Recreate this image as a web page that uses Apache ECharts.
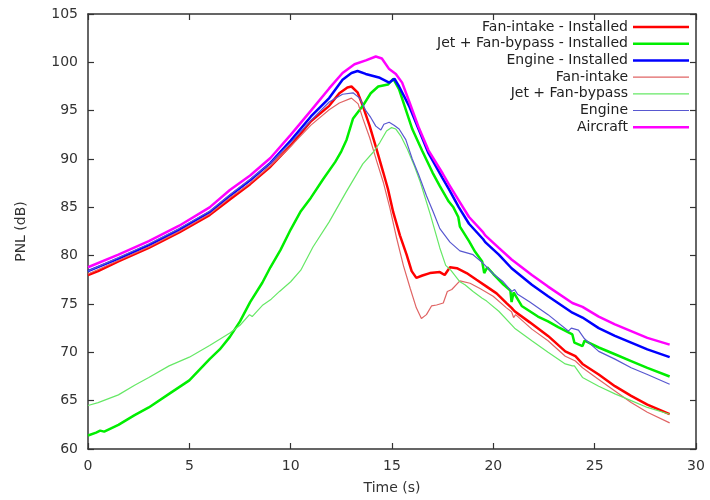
<!DOCTYPE html>
<html>
<head>
<meta charset="utf-8">
<script src="https://cdn.jsdelivr.net/npm/echarts/dist/echarts.min.js"></script>
<style>
  html, body { margin: 0; padding: 0; background: #fff; }
  #chart { width: 710px; height: 500px; }
</style>
</head>
<body>
<div id="chart"></div>
<script>
// ---- Data (time s, PNL dB) ----
const seriesNames = [
  'Fan-intake - Installed',
  'Jet + Fan-bypass - Installed',
  'Engine - Installed',
  'Fan-intake',
  'Jet + Fan-bypass',
  'Engine',
  'Aircraft'
];

const xTicks = [0, 5, 10, 15, 20, 25, 30];
const yTicks = [60, 65, 70, 75, 80, 85, 90, 95, 100, 105];

const fanIntakeInstalled = [[0,78.0],[0.5,78.4],[1.5,79.4],[3,80.8],[4.5,82.4],[6,84.2],[7,85.8],[8,87.4],[9,89.2],[10,91.4],[11,93.9],[11.9,95.5],[12.4,96.8],[12.8,97.4],[13.0,97.5],[13.3,96.9],[13.56,95.5],[13.9,93.4],[14.24,91.0],[14.57,88.6],[14.8,86.9],[15.06,84.5],[15.39,82.1],[15.72,80.1],[15.97,78.4],[16.2,77.7],[16.5,77.95],[16.87,78.2],[17.36,78.3],[17.6,78.0],[17.86,78.8],[18.2,78.7],[18.68,78.2],[19.17,77.5],[19.67,76.8],[20.16,76.1],[20.65,75.1],[20.9,74.6],[21.05,74.25],[21.8,73.1],[22.7,71.7],[23.55,70.1],[24.05,69.6],[24.4,68.8],[25.2,67.7],[26.0,66.5],[26.8,65.5],[27.6,64.6],[28.7,63.6]];

const jetFanBypassInstalled = [[0,61.4],[0.4,61.7],[0.6,61.9],[0.8,61.8],[1.5,62.5],[2.3,63.5],[3,64.3],[4,65.7],[5,67.1],[6,69.3],[6.5,70.3],[7,71.6],[7.5,73.2],[8,75.2],[8.6,77.2],[9,78.8],[9.5,80.6],[10,82.7],[10.5,84.6],[11,86.0],[11.6,87.9],[12.2,89.7],[12.5,90.8],[12.76,92.0],[13.08,94.2],[13.56,95.5],[13.95,96.8],[14.32,97.5],[14.8,97.7],[15.06,98.3],[15.35,97.2],[15.68,95.1],[16.0,93.1],[16.5,90.8],[17.0,88.6],[17.36,87.2],[17.8,85.6],[18.03,85.0],[18.27,84.0],[18.35,83.0],[18.8,81.5],[19.1,80.4],[19.45,79.4],[19.55,78.2],[19.7,78.8],[20.0,78.1],[20.5,77.0],[20.84,76.4],[20.9,75.2],[21.0,76.2],[21.4,74.8],[22.2,73.7],[22.7,73.2],[23.2,72.6],[23.9,71.85],[24.0,71.0],[24.4,70.65],[24.5,71.2],[25.2,70.5],[26.0,69.8],[26.8,69.1],[27.6,68.4],[28.7,67.5]];

const engineInstalled = [[0,78.4],[1.5,79.7],[3,81.1],[4.5,82.7],[6,84.5],[7,86.2],[8,87.8],[9,89.6],[10,91.9],[11,94.4],[11.9,96.3],[12.56,98.2],[13.0,98.9],[13.3,99.1],[13.7,98.8],[14.4,98.4],[14.86,97.9],[15.12,98.3],[15.35,97.5],[15.84,95.5],[16.33,93.0],[16.8,90.6],[17.5,88.0],[17.8,86.9],[18.3,85.0],[18.8,83.3],[19.5,81.7],[19.6,81.4],[20.27,80.1],[20.9,78.7],[21.9,77.0],[22.7,75.8],[23.9,74.1],[24.4,73.6],[25.2,72.5],[26.0,71.7],[26.8,71.0],[27.6,70.3],[28.7,69.5]];

const fanIntake = [[0,78.1],[1.5,79.5],[3,80.9],[4.5,82.5],[6,84.3],[7,86.0],[8,87.5],[9,89.3],[10,91.3],[11,93.5],[11.9,95.1],[12.4,95.8],[13.0,96.3],[13.33,95.7],[13.56,94.2],[13.9,92.2],[14.24,89.8],[14.57,87.6],[14.9,84.9],[15.23,81.8],[15.56,79.0],[15.9,76.6],[16.2,74.6],[16.45,73.5],[16.7,73.9],[16.95,74.8],[17.2,74.9],[17.53,75.1],[17.73,76.3],[17.95,76.5],[18.35,77.4],[18.85,77.15],[19.34,76.6],[19.99,75.8],[20.65,74.6],[20.9,74.2],[21.0,73.6],[21.1,73.9],[21.9,72.4],[22.7,71.2],[23.55,69.6],[24.05,69.1],[24.4,68.4],[25.2,67.2],[26.0,66.0],[26.8,64.8],[27.6,63.8],[28.7,62.7]];

const jetFanBypass = [[0,64.5],[0.5,64.8],[1.5,65.6],[2.3,66.6],[3,67.4],[4,68.6],[5,69.5],[6,70.7],[7,72.0],[7.5,72.8],[7.97,73.9],[8.1,73.7],[8.63,74.9],[9.04,75.5],[9.45,76.3],[10.0,77.3],[10.5,78.5],[11.1,80.9],[11.9,83.5],[12.74,86.6],[13.56,89.5],[14.07,90.7],[14.4,91.7],[14.73,92.9],[14.98,93.25],[15.19,93.1],[15.43,92.4],[15.76,91.0],[16.1,89.3],[16.4,87.6],[16.9,84.2],[17.36,80.8],[17.65,79.0],[17.9,78.5],[18.35,77.3],[18.6,77.0],[19.0,76.3],[19.45,75.6],[19.67,75.3],[20.27,74.25],[21.05,72.5],[21.9,71.2],[22.7,70.0],[23.55,68.8],[23.9,68.6],[24.0,68.6],[24.4,67.4],[25.2,66.5],[26.0,65.7],[26.8,65.0],[27.6,64.3],[28.7,63.6]];

const engine = [[0,78.4],[1.5,79.8],[3,81.2],[4.5,82.8],[6,84.6],[7,86.3],[8,87.9],[9,89.6],[10,91.7],[11,94.0],[11.9,95.9],[12.56,96.7],[13.08,96.85],[13.4,96.3],[13.71,95.0],[13.95,94.3],[14.2,93.4],[14.45,93.0],[14.6,93.6],[14.86,93.8],[15.1,93.5],[15.35,93.1],[15.68,92.0],[16.0,90.0],[16.33,88.3],[16.7,86.2],[17.04,84.5],[17.36,82.8],[17.86,81.4],[18.35,80.5],[19.0,80.1],[19.5,79.2],[20.0,78.1],[20.49,77.3],[20.9,76.3],[21.05,76.5],[21.2,76.0],[21.8,75.2],[22.7,73.9],[23.7,72.2],[23.85,72.5],[24.2,72.3],[24.5,71.4],[25.2,70.1],[26.0,69.3],[26.8,68.4],[27.6,67.7],[28.7,66.7]];

const aircraft = [[0,78.8],[1.5,80.1],[3,81.5],[4.5,83.1],[6,85.0],[7,86.8],[8,88.3],[9,90.1],[10,92.5],[11,95.0],[11.9,97.3],[12.56,98.9],[13.15,99.8],[13.71,100.2],[14.2,100.6],[14.5,100.4],[14.86,99.3],[15.19,98.8],[15.5,97.9],[15.84,96.0],[16.33,93.2],[16.8,90.9],[17.5,88.5],[17.8,87.4],[18.3,85.7],[18.8,84.0],[19.5,82.4],[19.6,82.1],[20.27,80.8],[20.9,79.6],[21.9,78.0],[22.7,76.8],[23.9,75.1],[24.4,74.7],[25.2,73.7],[26.0,72.9],[26.8,72.2],[27.6,71.5],[28.7,70.8]];

const seriesData = [fanIntakeInstalled, jetFanBypassInstalled, engineInstalled, fanIntake, jetFanBypass, engine, aircraft];
const seriesColors = ['#ff0000', '#00ee00', '#0000ff', '#e06464', '#66e866', '#5858d0', '#ff00ff'];
const seriesWidths = [2.5, 2.5, 2.5, 1.2, 1.2, 1.2, 2.5];

const FONT = 'DejaVu Sans';
const AXIS_COLOR = '#333';

// legend line samples: thin filled bars whose aspect gives the line thickness
const ICON_THICK = 'path://M0,0H224V10H0Z';
const ICON_THIN = 'path://M0,0H467V10H0Z';

const chart = echarts.init(document.getElementById('chart'), null, { renderer: 'canvas' });

function axisCommon(showLabels) {
  return {
    axisLine: { show: true, onZero: false, lineStyle: { color: AXIS_COLOR, width: 1.5 } },
    axisTick: { show: true, inside: true, length: 6, lineStyle: { color: AXIS_COLOR, width: 1.2 } },
    axisLabel: { show: showLabels, color: '#333', fontFamily: FONT, fontSize: 14, margin: 10 },
    splitLine: { show: false }
  };
}

const option = {
  animation: false,
  backgroundColor: '#ffffff',
  grid: { left: 88, top: 14, right: 14, bottom: 48, containLabel: false },
  legend: {
    data: seriesNames.map((name, i) => ({
      name: name,
      icon: seriesWidths[i] > 2 ? ICON_THICK : ICON_THIN
    })),
    orient: 'vertical',
    right: 21,
    top: 20,
    align: 'right',
    itemWidth: 56,
    itemHeight: 14,
    itemGap: 2.7,
    padding: 0,
    symbolKeepAspect: true,
    textStyle: { fontFamily: FONT, fontSize: 14, lineHeight: 14, color: '#222', width: 176, align: 'right' }
  },
  xAxis: [
    Object.assign({
      type: 'value', min: xTicks[0], max: xTicks[xTicks.length - 1], interval: 5, position: 'bottom',
      name: 'Time (s)', nameLocation: 'middle', nameGap: 32,
      nameTextStyle: { fontFamily: FONT, fontSize: 14, color: '#333' }
    }, axisCommon(true)),
    Object.assign({
      type: 'value', min: xTicks[0], max: xTicks[xTicks.length - 1], interval: 5, position: 'top'
    }, axisCommon(false))
  ],
  yAxis: [
    Object.assign({
      type: 'value', min: yTicks[0], max: yTicks[yTicks.length - 1], interval: 5, position: 'left',
      name: 'PNL (dB)', nameLocation: 'middle', nameGap: 60,
      nameTextStyle: { fontFamily: FONT, fontSize: 14, color: '#333' }
    }, axisCommon(true)),
    Object.assign({
      type: 'value', min: yTicks[0], max: yTicks[yTicks.length - 1], interval: 5, position: 'right'
    }, axisCommon(false))
  ],
  series: seriesNames.map((name, i) => ({
    name: name,
    type: 'line',
    xAxisIndex: 0,
    yAxisIndex: 0,
    data: seriesData[i],
    symbol: 'none',
    showSymbol: false,
    smooth: false,
    color: seriesColors[i],
    lineStyle: { color: seriesColors[i], width: seriesWidths[i] },
    z: 2 + i
  }))
};

chart.setOption(option);
</script>
</body>
</html>
